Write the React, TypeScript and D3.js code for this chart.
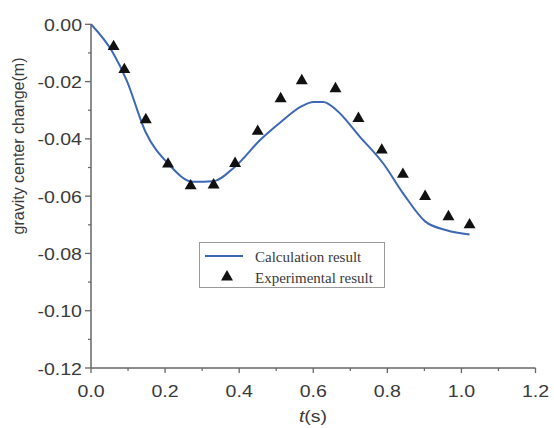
import React from "react";
import * as d3 from "d3";

const calcT = [0, 0.06, 0.096, 0.147, 0.208, 0.276, 0.33, 0.388, 0.456, 0.51, 0.569, 0.6, 0.627, 0.663, 0.726, 0.789, 0.843, 0.902, 0.96, 1.022];
const calcY = [0, -0.0101, -0.0195, -0.0375, -0.0486, -0.055, -0.0548, -0.0498, -0.0405, -0.0344, -0.0286, -0.0271, -0.0271, -0.03, -0.0393, -0.0486, -0.0591, -0.0688, -0.0719, -0.0734];

const expT = [0.061, 0.09, 0.148, 0.208, 0.269, 0.331, 0.389, 0.45, 0.512, 0.569, 0.66, 0.722, 0.785, 0.842, 0.902, 0.965, 1.022];
const expY = [-0.0078, -0.0158, -0.0333, -0.0488, -0.0564, -0.0561, -0.0486, -0.0374, -0.026, -0.0197, -0.0225, -0.0329, -0.0439, -0.0524, -0.0601, -0.0672, -0.07];

const xTicks = [0, 0.2, 0.4, 0.6, 0.8, 1.0, 1.2];
const xMinor = [0.1, 0.3, 0.5, 0.7, 0.9, 1.1];
const yTicks = [0, -0.02, -0.04, -0.06, -0.08, -0.1, -0.12];
const yMinor = [-0.01, -0.03, -0.05, -0.07, -0.09, -0.11];

const seriesNames = ["Calculation result", "Experimental result"];

export default function App() {
  const W = 554, H = 428;
  const x = d3.scaleLinear().domain([0, 1.2]).range([91, 535.5]);
  const y = d3.scaleLinear().domain([-0.12, 0]).range([368, 24.3]);
  const axisColor = "#666";
  const textColor = "#3a3a3a";
  const blue = "#3d68b4";
  const sans = "'Liberation Sans', Arial, sans-serif";
  const serif = "'Liberation Serif', 'Times New Roman', serif";
  const sx = 1.15;

  const line = d3.line<number>().x((_, i) => x(calcT[i])).y((d) => y(d)).curve(d3.curveMonotoneX);
  const tri = d3.symbol().type(d3.symbolTriangle).size(62)()!;

  return (
    <svg width={W} height={H} style={{ position: "absolute", left: 0, top: 0, background: "#fff" }}>
      {/* axes */}
      <line x1={x(0)} x2={x(1.2)} y1={y(-0.12)} y2={y(-0.12)} stroke={axisColor} strokeWidth={1.5} />
      <line x1={x(0)} x2={x(0)} y1={y(-0.12)} y2={y(0)} stroke={axisColor} strokeWidth={1.5} />
      {xTicks.map((t) => (
        <g key={"xt" + t}>
          <line x1={x(t)} x2={x(t)} y1={y(-0.12)} y2={y(-0.12) + 5} stroke={axisColor} strokeWidth={1.3} />
          <text transform={`translate(${x(t)},397) scale(${sx},1)`} textAnchor="middle" fontFamily={sans} fontSize={17} fill={textColor}>
            {t.toFixed(1)}
          </text>
        </g>
      ))}
      {xMinor.map((t) => (
        <line key={"xm" + t} x1={x(t)} x2={x(t)} y1={y(-0.12)} y2={y(-0.12) + 3} stroke={axisColor} strokeWidth={1.2} />
      ))}
      {yTicks.map((v) => (
        <g key={"yt" + v}>
          <line x1={x(0) - 6} x2={x(0)} y1={y(v)} y2={y(v)} stroke={axisColor} strokeWidth={1.3} />
          <text transform={`translate(82,${y(v) + 6.5}) scale(${sx},1)`} textAnchor="end" fontFamily={sans} fontSize={17} fill={textColor}>
            {v.toFixed(2)}
          </text>
        </g>
      ))}
      {yMinor.map((v) => (
        <line key={"ym" + v} x1={x(0) - 3} x2={x(0)} y1={y(v)} y2={y(v)} stroke={axisColor} strokeWidth={1.2} />
      ))}
      {/* axis titles */}
      <text transform={`translate(313,422) scale(${sx},1)`} textAnchor="middle" fontFamily={sans} fontSize={17} fill={textColor}>
        <tspan fontStyle="italic">t</tspan>
        <tspan>(s)</tspan>
      </text>
      <text
        transform={`translate(24, 146) rotate(-90)`}
        textAnchor="middle"
        fontFamily={sans}
        fontSize={16}
        fill={textColor}
      >
        gravity center change(m)
      </text>
      {/* calculation line */}
      <path d={line(calcY) || ""} fill="none" stroke={blue} strokeWidth={2} />
      {/* experimental points */}
      {expY.map((v, i) => (
        <path key={"e" + i} d={tri} transform={`translate(${x(expT[i])},${y(v)})`} fill="#111" />
      ))}
      {/* legend */}
      <rect x={199.5} y={242.5} width={185} height={45} fill="#fff" stroke="#999" strokeWidth={1} />
      <line x1={205} x2={243} y1={256} y2={256} stroke={blue} strokeWidth={2} />
      <path d={tri} transform="translate(227,277)" fill="#111" />
      <text x={255} y={262} fontFamily={serif} fontSize={15} fill={textColor}>
        {seriesNames[0]}
      </text>
      <text x={255} y={283} fontFamily={serif} fontSize={15} fill={textColor}>
        {seriesNames[1]}
      </text>
    </svg>
  );
}
